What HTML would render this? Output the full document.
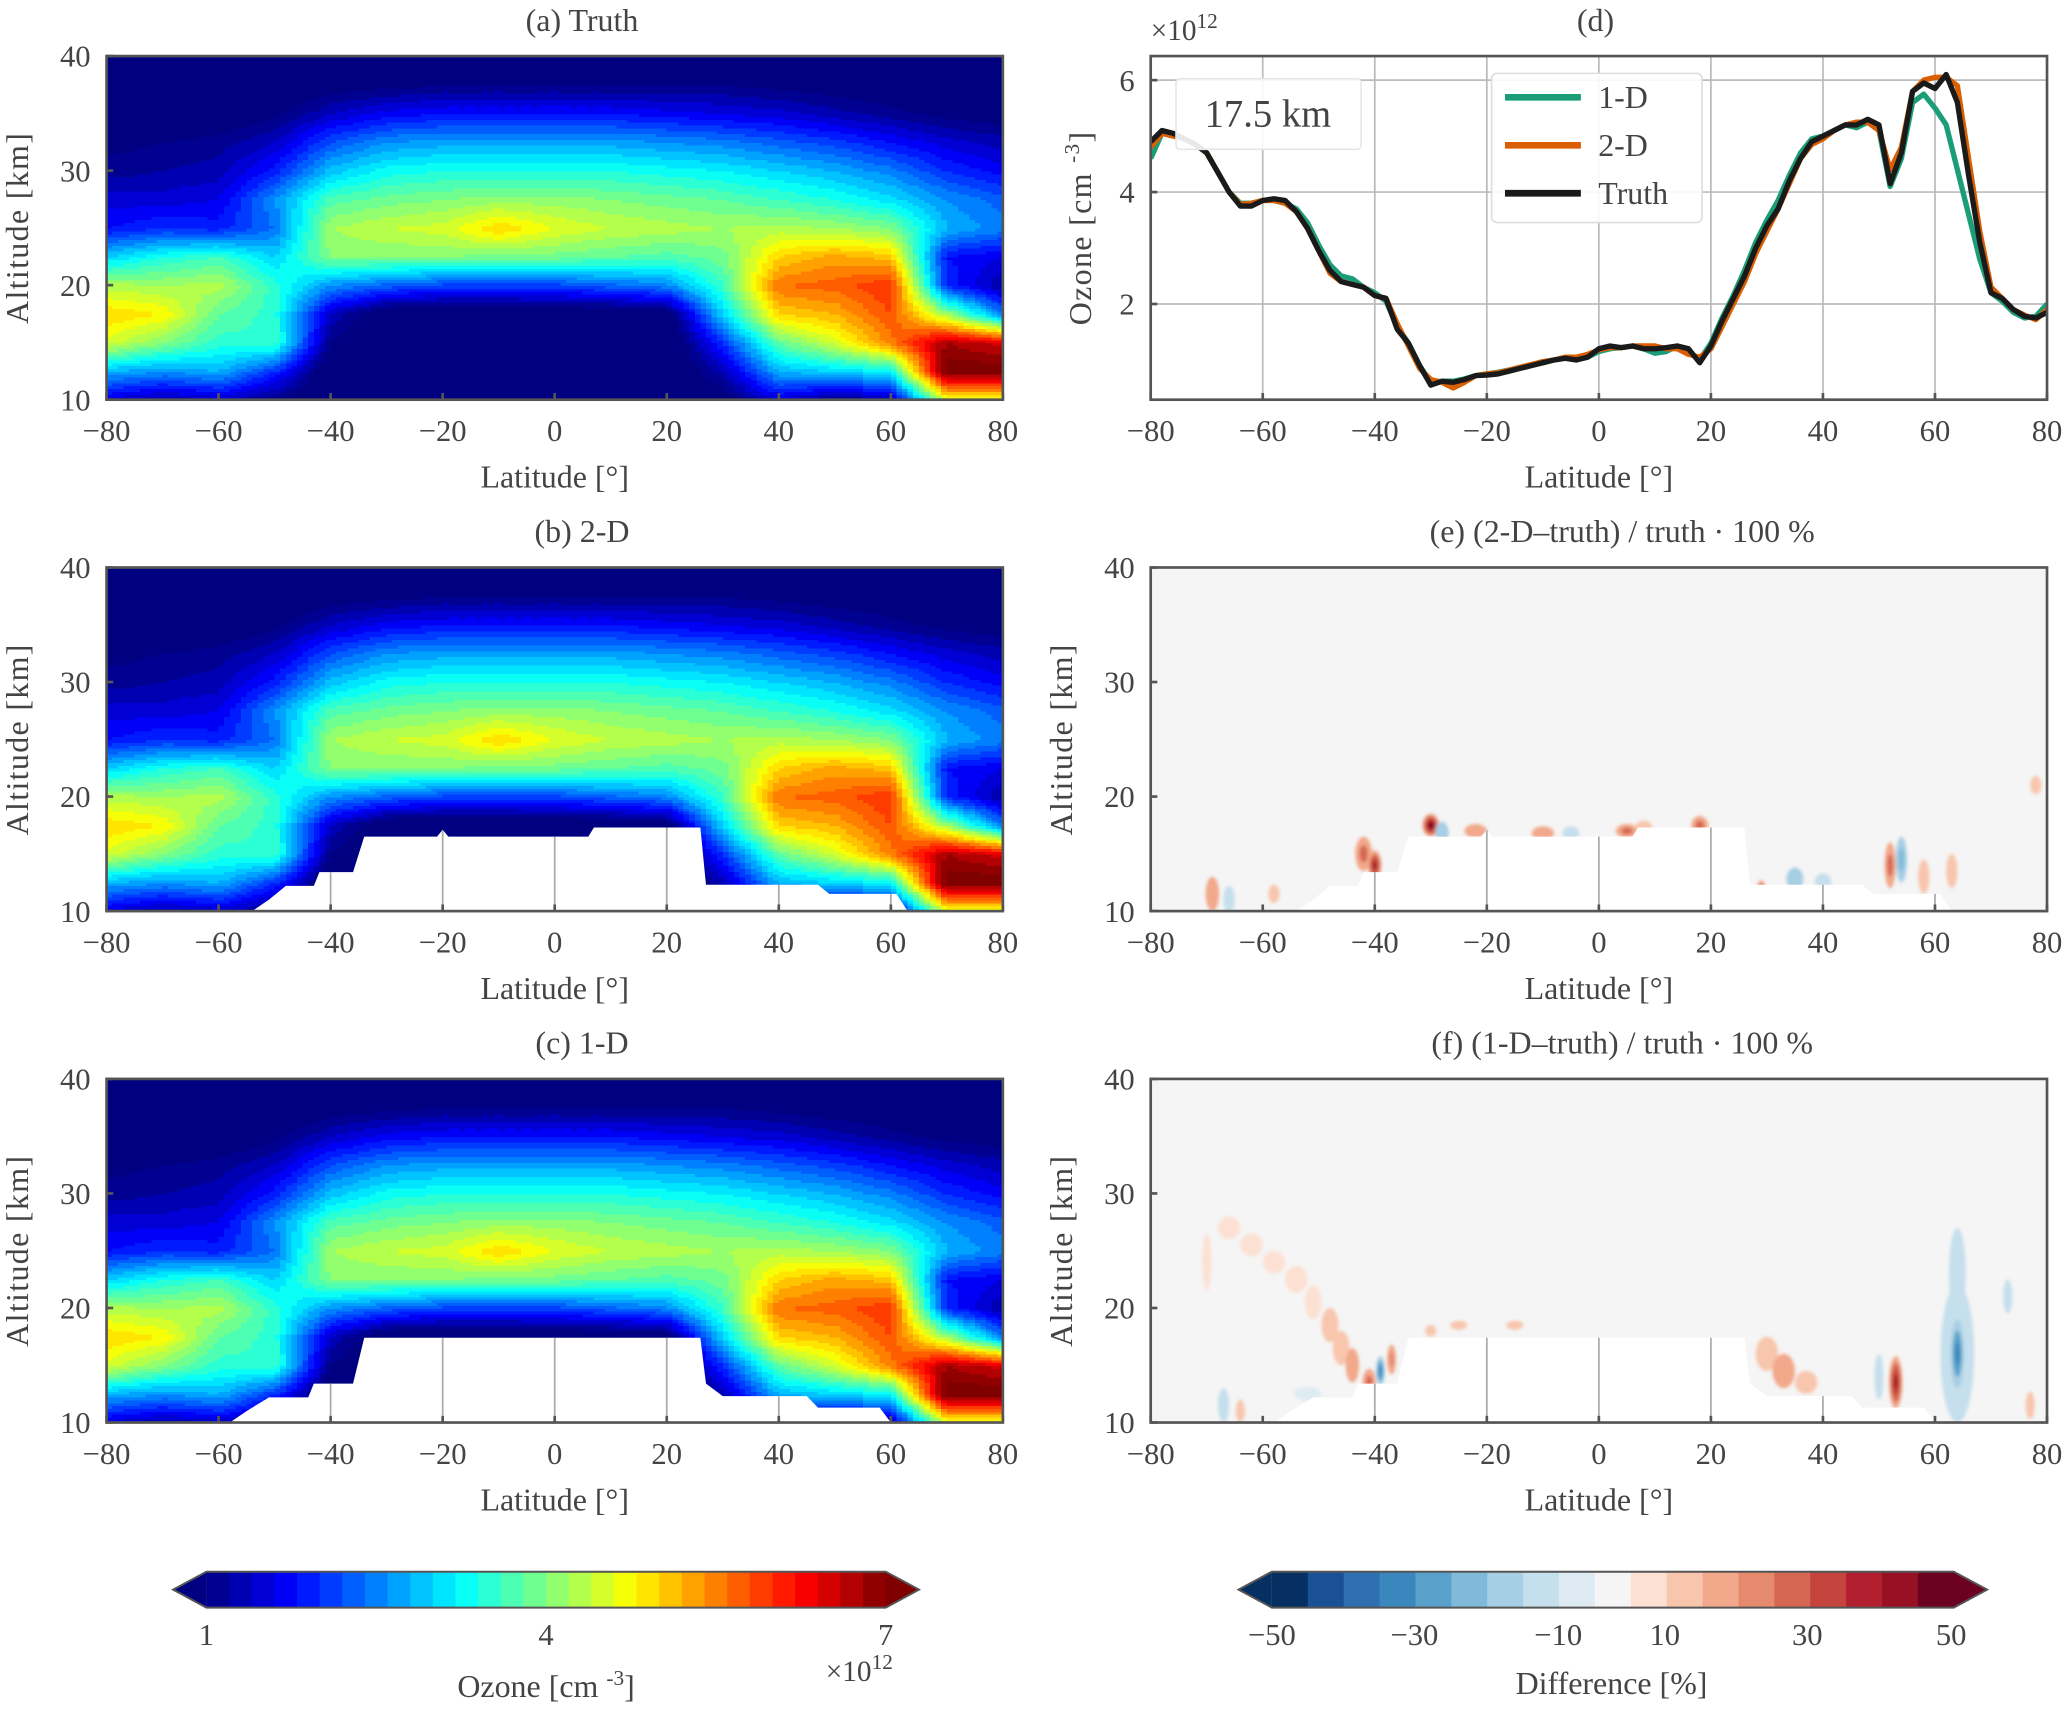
<!DOCTYPE html>
<html><head><meta charset="utf-8"><style>
html,body{margin:0;padding:0;background:#fff;}
svg{display:block;font-family:"Liberation Serif",serif;}
text{fill:#444;}
</style></head><body>
<svg id="fig" width="2067" height="1713" viewBox="0 0 1552 1286" xmlns="http://www.w3.org/2000/svg">
<defs>
<filter id="soft" x="-20%" y="-20%" width="140%" height="140%"><feGaussianBlur stdDeviation="1.2"/></filter>
</defs>
</svg>
<script>
// ---------- data ----------
const gridLats = [-80,-70,-60,-50,-40,-30,-20,-10,0,10,20,30,40,50,60,70,80];
const gridAlts = [40,37.5,35,32.5,30,27.5,25,22.5,20,17.5,15,12.5,10];
const ozoneTruth = [
 [.5,.5,.5,.5,.5,.5,.5,.5,.5,.5,.5,.5,.5,.5,.5,.5,.5],
 [.5,.5,.5,.6,.8,.9,1,1,1,1,1,1,.9,.8,.7,.6,.5],
 [.6,.6,.7,.9,1.4,1.7,1.8,1.8,1.8,1.8,1.7,1.6,1.5,1.3,1.1,.9,.8],
 [.9,1,1.1,1.4,2.2,2.6,2.7,2.7,2.7,2.7,2.6,2.5,2.3,2.1,1.8,1.5,1.3],
 [1.1,1.2,1.3,1.9,2.9,3.3,3.4,3.4,3.4,3.4,3.3,3.2,3.0,2.8,2.5,2.0,1.7],
 [1.5,1.5,1.6,2.6,3.7,3.9,4.0,4.1,4.1,4.0,3.9,3.8,3.6,3.4,3.1,2.6,2.3],
 [1.8,2.0,1.9,2.4,4.2,4.4,4.5,5.0,4.6,4.4,4.3,4.2,4.3,4.2,4.0,2.8,2.5],
 [3.0,3.4,3.6,3.0,4.0,4.0,4.0,3.9,3.9,3.8,3.7,3.9,5.0,5.3,5.1,1.8,1.6],
 [4.3,4.2,4.3,3.5,2.6,2.3,2.1,2.1,2.1,2.3,2.5,3.6,5.6,5.7,6.0,2.0,1.2],
 [5.0,4.8,3.8,3.5,1.4,0.6,0.5,0.5,0.6,0.6,0.7,3.0,5.0,5.2,5.8,4.2,2.5],
 [4.5,4.0,3.5,3.6,1.0,0.5,0.5,0.5,0.5,0.5,0.5,2.0,3.8,4.5,5.5,6.8,6.5],
 [2.8,2.6,2.8,2.0,0.6,0.5,0.5,0.5,0.5,0.5,0.5,1.3,2.8,3.0,3.2,7.2,7.2],
 [1.5,1.2,1.4,1.0,0.5,0.5,0.5,0.5,0.5,0.5,0.5,0.8,1.5,1.0,1.2,4.5,4.5]
];
const mask2D = [[-54,10],[-51,11],[-48,12.2],[-43,12.2],[-42,13.4],[-36,13.4],[-34,16.5],[-21,16.5],[-20,17.1],[-19,16.5],[6,16.5],[7,17.3],[26,17.3],[27,12.3],[47,12.3],[49,11.5],[61,11.5],[63,10]];
const mask1D = [[-58,10],[-55,11],[-51,12.2],[-44,12.2],[-43,13.4],[-36,13.4],[-34,17.4],[26,17.4],[27,13.4],[30,12.3],[45,12.3],[47,11.3],[58,11.3],[60,10]];
const diffE_lat = [-69,-66,-42,-40,-30,-28,-22,-10,-5,5,8,18,29,35,40,52,54,58,63,78,-58];
const diffE_alt = [11.5,11,15,14,17.5,16.8,17,16.8,16.8,17,17.3,17.5,11.2,12.8,12.5,14,14.5,13,13.5,21,11.5];
const diffE_val = [18,-12,25,45,50,-15,15,15,-12,25,12,25,50,-15,-12,25,-20,12,12,8,10];
const diffE_rw  = [1.2,1,1.5,1.2,1.5,1.2,2,2,1.5,2,1.5,1.5,1,1.5,1.5,1,1,1,1,1,1];
const diffE_rh  = [1.5,1.2,1.5,1.3,1,1,.6,.6,.6,.6,.6,.8,1.5,1,.8,2,2,1.5,1.5,.8,.8];
const diffF_lat = [-70,-66,-62,-58,-54,-51,-48,-46,-44,-41,-39,-37,-30,-25,-15,30,33,37,28,53,50,64,64,64,73,77,-67,-64,-52];
const diffF_alt = [24,27,25.5,24,22.5,20.5,18.5,16.5,15,13.5,14.5,15.5,18,18.5,18.5,16,14.5,13.5,11.5,13.5,14,16,16,23,21,11.5,11.5,11,12.5];
const diffF_val = [7,7,7,7,7,7,8,12,16,25,-30,20,12,8,8,10,15,10,50,45,-12,-12,-35,-10,-8,8,-8,8,-7];
const diffF_rw  = [0.8,2,2,2,2,1.5,1.5,1.5,1.2,1.2,0.8,0.8,1,1.5,1.5,2,2,2,.7,1.2,0.8,3,1.2,1.5,0.8,0.8,1,0.8,2.5];
const diffF_rh  = [2.5,1,1,1,1.2,1.5,1.5,1.5,1.5,1.2,1.3,1.3,.5,.4,.4,1.5,1.5,1,1.2,2.3,2,6,3,4,1.5,1.2,1.5,1,.6];
const profLat = [];
for (let l=-80;l<=80;l+=2) profLat.push(l);
const profTruth = [4.9,5.1,5.05,4.95,4.85,4.7,4.35,4.0,3.75,3.75,3.85,3.88,3.85,3.65,3.35,2.95,2.6,2.4,2.35,2.3,2.15,2.1,1.55,1.3,0.9,0.55,0.62,0.6,0.65,0.72,0.73,0.75,0.8,0.85,0.9,0.95,1.0,1.03,1.0,1.05,1.2,1.25,1.22,1.25,1.2,1.2,1.22,1.25,1.2,0.95,1.25,1.7,2.1,2.5,3.0,3.4,3.7,4.2,4.6,4.9,5.0,5.1,5.2,5.2,5.3,5.2,4.15,4.7,5.8,5.95,5.85,6.1,5.6,4.3,3.1,2.2,2.1,1.9,1.78,1.75,1.85];
const prof1D = [4.6,5.05,5.0,4.95,4.85,4.7,4.35,4.0,3.8,3.8,3.85,3.85,3.8,3.7,3.45,3.05,2.7,2.5,2.45,2.3,2.2,2.05,1.6,1.3,0.9,0.6,0.62,0.62,0.66,0.72,0.75,0.78,0.82,0.87,0.92,0.95,1.0,1.03,1.0,1.05,1.15,1.2,1.22,1.25,1.2,1.12,1.15,1.25,1.15,1.0,1.3,1.75,2.15,2.6,3.1,3.5,3.85,4.3,4.7,4.95,5.0,5.1,5.2,5.15,5.25,5.1,4.1,4.6,5.6,5.75,5.5,5.2,4.4,3.6,2.8,2.2,2.05,1.85,1.75,1.78,2.0];
const prof2D = [4.8,5.05,5.0,4.95,4.85,4.7,4.35,4.0,3.78,3.8,3.85,3.85,3.8,3.65,3.35,2.95,2.55,2.4,2.35,2.3,2.15,2.1,1.65,1.25,0.85,0.65,0.6,0.5,0.6,0.72,0.75,0.77,0.82,0.87,0.92,0.97,1.0,1.05,1.05,1.1,1.18,1.22,1.22,1.25,1.25,1.25,1.2,1.2,1.1,1.05,1.2,1.6,2.0,2.4,2.9,3.3,3.7,4.15,4.6,4.85,4.95,5.1,5.2,5.25,5.25,5.1,4.4,4.8,5.8,6.0,6.05,6.05,5.9,4.6,3.3,2.3,2.1,1.9,1.8,1.72,1.9];
const latTicks = [-80,-60,-40,-20,0,20,40,60,80];
const altTicks = [10,20,30,40];
const ozoneTicks = [2,4,6];
const cbarOzoneTicks = [1,4,7];
const cbarDiffTicks = [-50,-30,-10,10,30,50];

// ---------- helpers ----------
const NS="http://www.w3.org/2000/svg";
const svg=document.getElementById('fig');
function mk(tag,attrs,parent){const e=document.createElementNS(NS,tag);for(const k in attrs)e.setAttribute(k,attrs[k]);(parent||svg).appendChild(e);return e;}
function txt(str,attrs,parent){const t=mk('text',attrs,parent);t.textContent=str;return t;}
function cl(v){return Math.max(0,Math.min(1,v));}
function jet(t){const r=cl(1.5-Math.abs(4*t-3)),g=cl(1.5-Math.abs(4*t-2)),b=cl(1.5-Math.abs(4*t-1));return `rgb(${Math.round(r*255)},${Math.round(g*255)},${Math.round(b*255)})`;}
const NLEV=30;
function ozColor(v){let lv=Math.floor((v-1)/6*NLEV);lv=Math.max(-1,Math.min(NLEV,lv));const t=cl((lv+0.5)/NLEV);return jet(t);}
const rdbu=['#053061','#1a5196','#2d6fb0','#3a87bd','#5aa1cb','#80b9d9','#a6cee4','#c5dfec','#deebf3','#f5f5f5','#fce1d3','#f8c6ad','#f2a88a','#e68a6d','#d66752','#c5443e','#b2202f','#981023','#6c0021'];
function diffColor(v){let i=Math.floor((v+50)/100*19);i=Math.max(0,Math.min(18,i));return rdbu[i];}
function axes(x0,y0,W,H){return {px:l=>x0+(l+80)/160*W,py:a=>y0+H-(a-10)/30*H,x0,y0,W,H};}
function bilinear(lat,alt){
  let i=(lat+80)/10;i=Math.max(0,Math.min(15.999,i));const i0=Math.floor(i),fx=i-i0;
  let j=(40-alt)/2.5;j=Math.max(0,Math.min(11.999,j));const j0=Math.floor(j),fy=j-j0;
  const a=ozoneTruth[j0][i0],b=ozoneTruth[j0][i0+1],c=ozoneTruth[j0+1][i0],d=ozoneTruth[j0+1][i0+1];
  return a*(1-fx)*(1-fy)+b*fx*(1-fy)+c*(1-fx)*fy+d*fx*fy;
}
function xAxisTicks(ax,g){
  latTicks.forEach(l=>{
    const x=ax.px(l);
    mk('line',{x1:x,x2:x,y1:ax.y0+ax.H,y2:ax.y0+ax.H-5,stroke:'#555','stroke-width':2},g);
    const t=txt((l<0?'\u2212'+(-l):''+l),{x:x,y:ax.y0+ax.H+31,'text-anchor':'middle','font-size':23},g);
    
  });
  const xl=txt('Latitude [°]',{x:ax.x0+ax.W/2,y:ax.y0+ax.H+66,'text-anchor':'middle','font-size':24},g);
  
}
function altAxis(ax,g){
  altTicks.forEach(a=>{
    const y=ax.py(a);
    mk('line',{x1:ax.x0,x2:ax.x0+5,y1:y,y2:y,stroke:'#555','stroke-width':2},g);
    const t=txt(''+a,{x:ax.x0-12,y:y+8,'text-anchor':'end','font-size':23},g);
    
  });
  const yl=txt('Altitude [km]',{x:0,y:0,'text-anchor':'middle','font-size':24,transform:`translate(${ax.x0-59},${ax.y0+ax.H/2}) rotate(-90)`,'letter-spacing':'1'},g);
  
}
function maskPts(ax,m){const pts=[...m,[m[m.length-1][0],10],[m[0][0],10]];return pts.map(p=>ax.px(p[0])+','+ax.py(p[1])).join(' ');}
function drawMaskAndGrid(ax,g,m,id){
  const mpts=maskPts(ax,m);
  mk('polygon',{points:mpts,fill:'#fff'},g);
  const cp=mk('clipPath',{id:id},g);mk('polygon',{points:mpts},cp);
  const gg=mk('g',{'clip-path':`url(#${id})`},g);
  latTicks.forEach(l=>mk('line',{x1:ax.px(l),x2:ax.px(l),y1:ax.y0,y2:ax.y0+ax.H,stroke:'#aaa','stroke-width':1.3},gg));
}
function title(str,x,y,name){const t=txt(str,{x:x,y:y,'text-anchor':'middle','font-size':24});}

function heatPanel(y0,name,mask,mid){
  const ax=axes(80,y0,673,258);
  const g=mk('g',{});
  
  
  const cp=mk('clipPath',{id:'clip'+mid},g);mk('rect',{x:ax.x0,y:ax.y0,width:ax.W,height:ax.H},cp);
  const hm=mk('g',{'clip-path':`url(#clip${mid})`,'shape-rendering':'crispEdges'},g);
  
  
  const dl=1,da=0.25;
  for(let lat=-80;lat<80;lat+=dl){
    let runStart=10,runCol=null;
    for(let alt=10;alt<=40;alt+=da){
      const col=alt<40?ozColor(bilinear(lat+dl/2,alt+da/2)):null;
      if(col!==runCol){
        if(runCol){mk('rect',{x:ax.px(lat),y:ax.py(alt),width:ax.W/160+0.6,height:ax.py(runStart)-ax.py(alt)+0.6,fill:runCol},hm);}
        runStart=alt;runCol=col;
      }
    }
  }
  if(mask)drawMaskAndGrid(ax,g,mask,'mk'+mid);
  mk('rect',{x:ax.x0,y:ax.y0,width:ax.W,height:ax.H,fill:'none',stroke:'#555','stroke-width':2},g);
  xAxisTicks(ax,g);altAxis(ax,g);
}
function diffPanel(y0,name,mask,mid,latA,altA,valA,rwA,rhA){
  const ax=axes(864,y0,673,258);
  const g=mk('g',{});
  
  
  mk('rect',{x:ax.x0,y:ax.y0,width:ax.W,height:ax.H,fill:'#f5f5f5'},g);
  const cp=mk('clipPath',{id:'clip'+mid},g);mk('rect',{x:ax.x0,y:ax.y0,width:ax.W,height:ax.H},cp);
  const bg=mk('g',{'clip-path':`url(#clip${mid})`,filter:'url(#soft)'},g);
  latA.forEach((lat,i)=>{
    const v=valA[i];const steps=Math.max(1,Math.floor(Math.abs(v)/10));
    for(let s=0;s<steps;s++){
      const f=1-s/steps;const vv=Math.sign(v)*Math.min(Math.abs(v),(s+1)*10+4);
      const e=mk('ellipse',{cx:ax.px(lat),cy:ax.py(altA[i]),rx:rwA[i]/160*ax.W*f,ry:rhA[i]/30*ax.H*f,fill:diffColor(vv)},bg);
      
      
    }
  });
  drawMaskAndGrid(ax,g,mask,'mk'+mid);
  mk('rect',{x:ax.x0,y:ax.y0,width:ax.W,height:ax.H,fill:'none',stroke:'#555','stroke-width':2},g);
  xAxisTicks(ax,g);altAxis(ax,g);
}

title('(a) Truth',437,23,'panel-a-title');
heatPanel(42,'panel-a-truth',null,'a');
title('(b) 2-D',437,407,'panel-b-title');
heatPanel(426,'panel-b-2d',mask2D,'b');
title('(c) 1-D',437,791,'panel-c-title');
heatPanel(810,'panel-c-1d',mask1D,'c');
title('(e) (2-D–truth) / truth · 100 %',1218,407,'panel-e-title');
diffPanel(426,'panel-e-2d-difference',mask2D,'e',diffE_lat,diffE_alt,diffE_val,diffE_rw,diffE_rh);
title('(f) (1-D–truth) / truth · 100 %',1218,791,'panel-f-title');
diffPanel(810,'panel-f-1d-difference',mask1D,'f',diffF_lat,diffF_alt,diffF_val,diffF_rw,diffF_rh);

(function(){
  const x0=864,y0=42,W=673,H=258,vMin=0.29,vMax=6.43;
  const px=l=>x0+(l+80)/160*W, py=v=>y0+H-(v-vMin)/(vMax-vMin)*H;
  const g=mk('g',{});
  
  
  title('(d)',1198,23,'panel-d-title');
  latTicks.forEach(l=>mk('line',{x1:px(l),x2:px(l),y1:y0,y2:y0+H,stroke:'#bbb','stroke-width':1.3},g));
  ozoneTicks.forEach(v=>mk('line',{x1:x0,x2:x0+W,y1:py(v),y2:py(v),stroke:'#bbb','stroke-width':1.3},g));
  const cp=mk('clipPath',{id:'clipd'},g);mk('rect',{x:x0,y:y0,width:W,height:H},cp);
  const lg=mk('g',{'clip-path':'url(#clipd)'},g);
  const series=[[prof1D,'#1b9e77','line-1d'],[prof2D,'#d95f02','line-2d'],[profTruth,'#1a1a1a','line-truth']];
  series.forEach(s=>{
    const p=mk('polyline',{points:profLat.map((l,i)=>px(l)+','+py(s[0][i])).join(' '),fill:'none',stroke:s[1],'stroke-width':4,'stroke-linejoin':'round'},lg);
    
    
  });
  mk('rect',{x:x0,y:y0,width:W,height:H,fill:'none',stroke:'#555','stroke-width':2},g);
  ozoneTicks.forEach(v=>{
    mk('line',{x1:x0,x2:x0+5,y1:py(v),y2:py(v),stroke:'#555','stroke-width':2},g);
    const t=txt(''+v,{x:x0-12,y:py(v)+8,'text-anchor':'end','font-size':23},g);
    
  });
  latTicks.forEach(l=>{
    mk('line',{x1:px(l),x2:px(l),y1:y0+H,y2:y0+H-5,stroke:'#555','stroke-width':2},g);
    const t=txt((l<0?'\u2212'+(-l):''+l),{x:px(l),y:y0+H+31,'text-anchor':'middle','font-size':23},g);
    
  });
  const xl=txt('Latitude [°]',{x:x0+W/2,y:y0+H+66,'text-anchor':'middle','font-size':24},g);
  
  const yl=mk('text',{x:0,y:0,'text-anchor':'middle','font-size':24,transform:`translate(${x0-45},${y0+H/2}) rotate(-90)`,'letter-spacing':'1'},g);
  yl.innerHTML='Ozone [cm <tspan font-size="16" dy="-9">-3</tspan><tspan dy="9">]</tspan>';
  
  const m=mk('text',{x:864,y:30,'font-size':22},g);
  m.innerHTML='×10<tspan font-size="16" dy="-9">12</tspan>';
  
  const bx=mk('g',{},g);
  
  mk('rect',{x:883,y:59,width:139,height:53,rx:3,fill:'#fff','fill-opacity':0.9,stroke:'#e6e6e6','stroke-width':1.2},bx);
  txt('17.5 km',{x:952,y:95,'text-anchor':'middle','font-size':29},bx);
  const lgd=mk('g',{},g);
  
  mk('rect',{x:1120,y:55,width:158,height:112,rx:4,fill:'#fff','fill-opacity':0.9,stroke:'#ddd','stroke-width':1.2},lgd);
  [['1-D','#1b9e77',73],['2-D','#d95f02',109],['Truth','#1a1a1a',145]].forEach(e=>{
    const en=mk('g',{},lgd);
    
    mk('line',{x1:1130,x2:1187,y1:e[2],y2:e[2],stroke:e[1],'stroke-width':5},en);
    txt(e[0],{x:1200,y:e[2]+8,'font-size':24},en);
  });
})();

(function(){
  const g=mk('g',{});
  
  const x0=155,x1=665,y0=1180,y1=1207,cy=(y0+y1)/2;
  const N=NLEV,w=(x1-x0)/N;
  for(let i=0;i<N;i++)mk('rect',{x:x0+i*w,y:y0,width:w+0.6,height:y1-y0,fill:jet((i+0.5)/N)},g);
  mk('polygon',{points:`${x0},${y0} ${x0-25},${cy} ${x0},${y1}`,fill:jet(0)},g);
  mk('polygon',{points:`${x1},${y0} ${x1+25},${cy} ${x1},${y1}`,fill:jet(1)},g);
  mk('polygon',{points:`${x0},${y0} ${x1},${y0} ${x1+25},${cy} ${x1},${y1} ${x0},${y1} ${x0-25},${cy}`,fill:'none',stroke:'#555','stroke-width':1.5},g);
  cbarOzoneTicks.forEach(v=>{const t=txt(''+v,{x:x0+(v-1)/6*(x1-x0),y:1235,'text-anchor':'middle','font-size':23},g);});
  const lb=mk('text',{x:410,y:1274,'text-anchor':'middle','font-size':24},g);
  lb.innerHTML='Ozone [cm <tspan font-size="16" dy="-9">-3</tspan><tspan dy="9">]</tspan>';
  
  const m=mk('text',{x:620,y:1262,'font-size':22},g);
  m.innerHTML='×10<tspan font-size="16" dy="-9">12</tspan>';
  

  const g2=mk('g',{});
  
  const a0=955,a1=1467,n=19,bw=(a1-a0)/n;
  for(let i=0;i<n;i++)mk('rect',{x:a0+i*bw,y:y0,width:bw+0.6,height:y1-y0,fill:rdbu[i]},g2);
  mk('polygon',{points:`${a0},${y0} ${a0-25},${cy} ${a0},${y1}`,fill:'#053061'},g2);
  mk('polygon',{points:`${a1},${y0} ${a1+25},${cy} ${a1},${y1}`,fill:'#6c0021'},g2);
  mk('polygon',{points:`${a0},${y0} ${a1},${y0} ${a1+25},${cy} ${a1},${y1} ${a0},${y1} ${a0-25},${cy}`,fill:'none',stroke:'#555','stroke-width':1.5},g2);
  const tickPos={'-50':955,'-30':1062,'-10':1170,'10':1250,'30':1357,'50':1465};
  cbarDiffTicks.forEach(v=>{const t=txt((v<0?'\u2212'+(-v):''+v),{x:tickPos[v],y:1235,'text-anchor':'middle','font-size':23},g2);});
  const l2=txt('Difference [%]',{x:1210,y:1272,'text-anchor':'middle','font-size':24},g2);
  
})();
</script>
</body></html>
